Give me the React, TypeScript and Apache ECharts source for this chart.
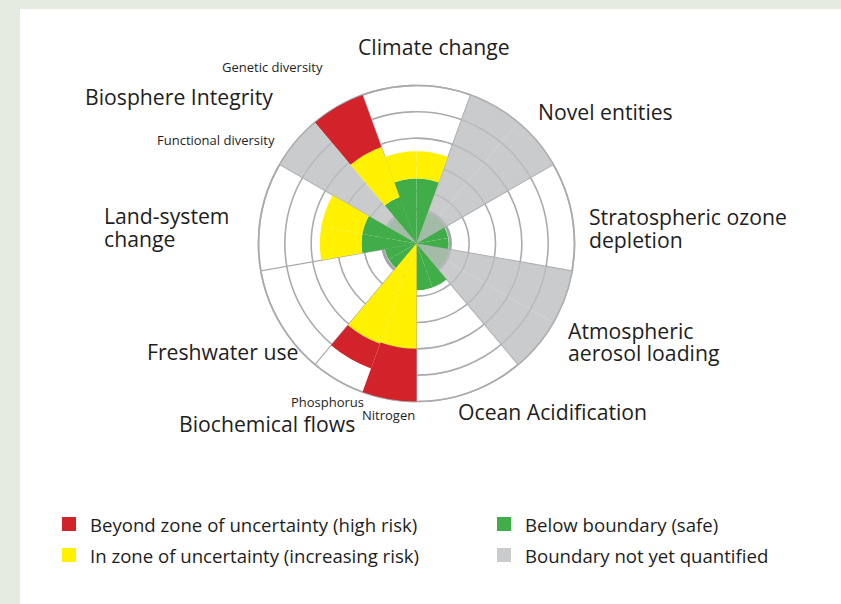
import React, { useEffect, useRef } from "react";
import * as echarts from "echarts";

// 18 angular slots of 20° each, clockwise from -20° (top)
const SLOTS = [
  "Climate change (a)", "Climate change (b)",
  "Novel entities (a)", "Novel entities (b)",
  "Stratospheric ozone depletion (a)", "Stratospheric ozone depletion (b)",
  "Atmospheric aerosol loading (a)", "Atmospheric aerosol loading (b)",
  "Ocean Acidification (a)", "Ocean Acidification (b)",
  "Nitrogen", "Phosphorus",
  "Freshwater use (a)", "Freshwater use (b)",
  "Land-system change (a)", "Land-system change (b)",
  "Functional diversity", "Genetic diversity",
];

// Outer radius reached by each zone (0 = zone absent); axis runs 0..6
const GREEN_EDGE = [2.47, 2.47, 1.25, 1.25, 1.22, 1.22, 1.25, 1.25, 1.78, 1.78, 0, 0, 1.22, 1.22, 2.09, 2.09, 1.25, 1.88];
const YELLOW_EDGE = [3.5, 3.5, 0, 0, 0, 0, 0, 0, 0, 0, 4.0, 4.05, 0, 0, 3.67, 3.67, 0, 3.9];
const RED_EDGE = [0, 0, 0, 0, 0, 0, 0, 0, 0, 0, 6.0, 5.05, 0, 0, 0, 0, 0, 6.0];
const GRAY_EDGE = [0, 0, 6, 6, 0, 0, 6, 6, 0, 0, 0, 0, 0, 0, 0, 0, 6, 0];

const RADIUS_MAX = 6;
const BOUNDARY = 1.29;

const LEGEND_NAMES = [
  "Beyond zone of uncertainty (high risk)",
  "In zone of uncertainty (increasing risk)",
  "Below boundary (safe)",
  "Boundary not yet quantified",
];

const FONT = "'Open Sans', 'Noto Sans', sans-serif";
const GRID = "#a9abae";
const CENTER = [416.5, 243.5];
const OUTER_R = 158;

export default function App() {
  const ref = useRef<HTMLDivElement>(null);

  useEffect(() => {
    document.body.style.margin = "0";
    const chart = echarts.init(ref.current!, null, { renderer: "svg" });

    const greenSeg = GREEN_EDGE;
    const yellowSeg = YELLOW_EDGE.map((y, i) => (y > 0 ? y - GREEN_EDGE[i] : 0));
    const redSeg = RED_EDGE.map((r, i) => (r > 0 ? r - Math.max(GREEN_EDGE[i], YELLOW_EDGE[i]) : 0));

    const barCommon = {
      type: "bar",
      coordinateSystem: "polar",
      polarIndex: 0,
      barCategoryGap: "0%",
      barGap: "-100%",
      silent: true,
    };

    const label = (text: string, x: number, y: number, size = 21.2) => ({
      type: "text",
      x,
      y,
      silent: true,
      style: {
        text,
        fontSize: size,
        fontFamily: FONT,
        fill: "#1e1e1e",
        textAlign: "left",
        textVerticalAlign: "middle",
      },
    });

    chart.setOption({
      animation: false,
      backgroundColor: "transparent",
      polar: [
        { center: CENTER, radius: OUTER_R },
        { center: CENTER, radius: (BOUNDARY / RADIUS_MAX) * OUTER_R },
      ],
      angleAxis: [
        {
          polarIndex: 0,
          type: "category",
          data: SLOTS,
          startAngle: 110,
          clockwise: true,
          boundaryGap: true,
          axisLine: { show: true, lineStyle: { color: GRID, width: 1.6 } },
          axisTick: { show: false },
          axisLabel: { show: false },
          splitLine: { show: true, lineStyle: { color: [GRID, "rgba(0,0,0,0)"], width: 1.2 } },
          splitArea: { show: false },
        },
        {
          polarIndex: 1,
          type: "value",
          min: 0,
          max: 360,
          axisLine: { show: true, lineStyle: { color: "#a3a5a8", width: 3 } },
          axisTick: { show: false },
          axisLabel: { show: false },
          splitLine: { show: false },
        },
      ],
      radiusAxis: [
        {
          polarIndex: 0,
          type: "value",
          min: 0,
          max: RADIUS_MAX,
          interval: 1,
          axisLine: { show: false },
          axisTick: { show: false },
          axisLabel: { show: false },
          splitLine: { show: true, lineStyle: { color: GRID, width: 1.6 } },
        },
        {
          polarIndex: 1,
          type: "value",
          min: 0,
          max: 1,
          show: false,
          axisLine: { show: false },
          axisTick: { show: false },
          axisLabel: { show: false },
          splitLine: { show: false },
        },
      ],
      legend: [
        {
          data: [LEGEND_NAMES[0], LEGEND_NAMES[1]],
          left: 62,
          top: 514,
          orient: "vertical",
          icon: "rect",
          itemWidth: 14,
          itemHeight: 14,
          itemGap: 11,
          padding: 0,
          selectedMode: false,
          textStyle: { fontSize: 18.6, fontFamily: FONT, color: "#1e1e1e", lineHeight: 20, padding: [0, 0, 0, 9] },
        },
        {
          data: [LEGEND_NAMES[2], LEGEND_NAMES[3]],
          left: 497,
          top: 514,
          orient: "vertical",
          icon: "rect",
          itemWidth: 14,
          itemHeight: 14,
          itemGap: 11,
          padding: 0,
          selectedMode: false,
          textStyle: { fontSize: 18.6, fontFamily: FONT, color: "#1e1e1e", lineHeight: 20, padding: [0, 0, 0, 9] },
        },
      ],
      series: [
        { ...barCommon, name: LEGEND_NAMES[2], stack: "zones", data: greenSeg, itemStyle: { color: "#40ad49" } },
        { ...barCommon, name: LEGEND_NAMES[1], stack: "zones", data: yellowSeg, itemStyle: { color: "#fff100" } },
        { ...barCommon, name: LEGEND_NAMES[0], stack: "zones", data: redSeg, itemStyle: { color: "#d2232a" } },
        { ...barCommon, name: LEGEND_NAMES[3], stack: "unquantified", data: GRAY_EDGE, itemStyle: { color: "rgba(189,190,192,0.8)" } },
      ],
      graphic: {
        elements: [
          label("Climate change", 358, 46),
          label("Genetic diversity", 222, 67, 13),
          label("Biosphere Integrity", 85, 96),
          label("Functional diversity", 157, 140, 13),
          label("Novel entities", 538, 111),
          label("Stratospheric ozone", 589, 216),
          label("depletion", 589, 239),
          label("Land-system", 104, 215),
          label("change", 104, 238),
          label("Atmospheric", 568, 330),
          label("aerosol loading", 568, 352),
          label("Freshwater use", 147, 351),
          label("Phosphorus", 291, 402, 13),
          label("Nitrogen", 362, 415, 13),
          label("Biochemical flows", 179, 423),
          label("Ocean Acidification", 458, 411),
        ],
      },
    });

    return () => chart.dispose();
  }, []);

  return (
    <div style={{ position: "fixed", left: 0, top: 0, width: 841, height: 604, background: "#e5ebe1" }}>
      <div style={{ position: "absolute", left: 20, top: 9, right: 0, bottom: 0, background: "#ffffff" }} />
      <div ref={ref} style={{ position: "absolute", left: 0, top: 0, width: 841, height: 604 }} />
    </div>
  );
}
